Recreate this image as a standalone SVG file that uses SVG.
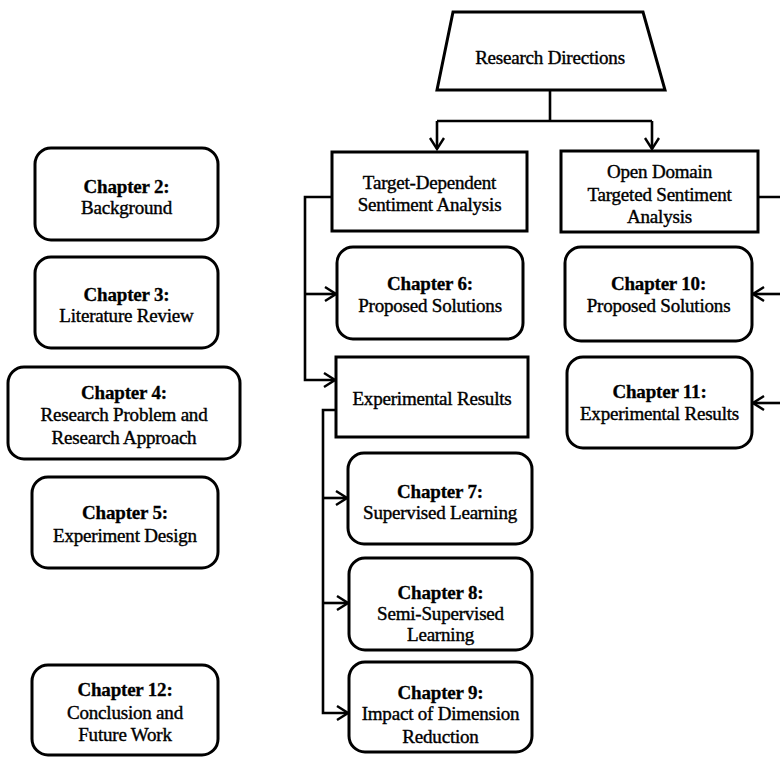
<svg xmlns="http://www.w3.org/2000/svg" width="780" height="758" viewBox="0 0 780 758">
<style>
.box{fill:#fff;stroke:#000;stroke-width:3}
.con{fill:none;stroke:#000;stroke-width:2.6}
text{font-family:"Liberation Serif","Times New Roman",serif;font-size:19px;text-anchor:middle;fill:#000;stroke:#000;stroke-width:0.4;letter-spacing:-0.2px}
.b{font-weight:bold;stroke-width:0.3}
</style>
<defs>
<marker id="arr" markerUnits="userSpaceOnUse" markerWidth="14" markerHeight="18" refX="12" refY="8" orient="auto">
<path d="M1,1 L12,8 L1,15" fill="none" stroke="#000" stroke-width="2.4"/>
</marker>
</defs>
<rect width="780" height="758" fill="#fff"/>
<g id="connectors">
<path class="con" d="M550,90 V121"/>
<path class="con" d="M437,121 H652"/>
<path class="con" d="M437,121 V149" marker-end="url(#arr)"/>
<path class="con" d="M652,121 V149" marker-end="url(#arr)"/>
<path class="con" d="M332,197 H305 V380 H335" marker-end="url(#arr)"/>
<path class="con" d="M305,294 H336" marker-end="url(#arr)"/>
<path class="con" d="M336,410 H323 V713 H348" marker-end="url(#arr)"/>
<path class="con" d="M323,498 H347" marker-end="url(#arr)"/>
<path class="con" d="M323,603 H348" marker-end="url(#arr)"/>
<path class="con" d="M758,197 H783 V403"/>
<path class="con" d="M783,294 H753" marker-end="url(#arr)"/>
<path class="con" d="M783,403 H753" marker-end="url(#arr)"/>
</g>
<g id="research-directions">
<polygon class="box" points="453,12 643,12 665,90 437,90"/>
<text x="550" y="64">Research Directions</text>
</g>
<g id="target-dependent">
<rect class="box" x="332" y="152" width="195" height="79"/>
<text x="429.5" y="189">Target-Dependent</text>
<text x="429.5" y="211">Sentiment Analysis</text>
</g>
<g id="open-domain">
<rect class="box" x="561" y="151" width="197" height="81"/>
<text x="659.5" y="178">Open Domain</text>
<text x="659.5" y="201">Targeted Sentiment</text>
<text x="659.5" y="223">Analysis</text>
</g>
<g id="chapter6">
<rect class="box" x="337" y="247" width="186" height="92" rx="16"/>
<text class="b" x="430" y="290">Chapter 6:</text>
<text x="430" y="312">Proposed Solutions</text>
</g>
<g id="chapter10">
<rect class="box" x="565" y="247" width="187" height="94" rx="16"/>
<text class="b" x="658.5" y="290">Chapter 10:</text>
<text x="658.5" y="312">Proposed Solutions</text>
</g>
<g id="experimental-results">
<rect class="box" x="336" y="357" width="192" height="80"/>
<text x="432" y="405">Experimental Results</text>
</g>
<g id="chapter11">
<rect class="box" x="567" y="357" width="185" height="91" rx="16"/>
<text class="b" x="659.5" y="398">Chapter 11:</text>
<text x="659.5" y="420">Experimental Results</text>
</g>
<g id="chapter7">
<rect class="box" x="348" y="453" width="184" height="91" rx="16"/>
<text class="b" x="440" y="498">Chapter 7:</text>
<text x="440" y="519">Supervised Learning</text>
</g>
<g id="chapter8">
<rect class="box" x="349" y="558" width="183" height="92" rx="16"/>
<text class="b" x="440.5" y="599">Chapter 8:</text>
<text x="440.5" y="620">Semi-Supervised</text>
<text x="440.5" y="641">Learning</text>
</g>
<g id="chapter9">
<rect class="box" x="349" y="662" width="183" height="90" rx="16"/>
<text class="b" x="440.5" y="699">Chapter 9:</text>
<text x="440.5" y="720">Impact of Dimension</text>
<text x="440.5" y="743">Reduction</text>
</g>
<g id="chapter2">
<rect class="box" x="35" y="148" width="183" height="92" rx="16"/>
<text class="b" x="126.5" y="193">Chapter 2:</text>
<text x="126.5" y="214">Background</text>
</g>
<g id="chapter3">
<rect class="box" x="35" y="257" width="183" height="91" rx="16"/>
<text class="b" x="126.5" y="301">Chapter 3:</text>
<text x="126.5" y="322">Literature Review</text>
</g>
<g id="chapter4">
<rect class="box" x="8" y="367" width="232" height="92" rx="16"/>
<text class="b" x="124" y="399">Chapter 4:</text>
<text x="124" y="421">Research Problem and</text>
<text x="124" y="444">Research Approach</text>
</g>
<g id="chapter5">
<rect class="box" x="32" y="477" width="186" height="91" rx="16"/>
<text class="b" x="125" y="519">Chapter 5:</text>
<text x="125" y="542">Experiment Design</text>
</g>
<g id="chapter12">
<rect class="box" x="32" y="665" width="186" height="90" rx="16"/>
<text class="b" x="125" y="696">Chapter 12:</text>
<text x="125" y="719">Conclusion and</text>
<text x="125" y="741">Future Work</text>
</g>
</svg>
